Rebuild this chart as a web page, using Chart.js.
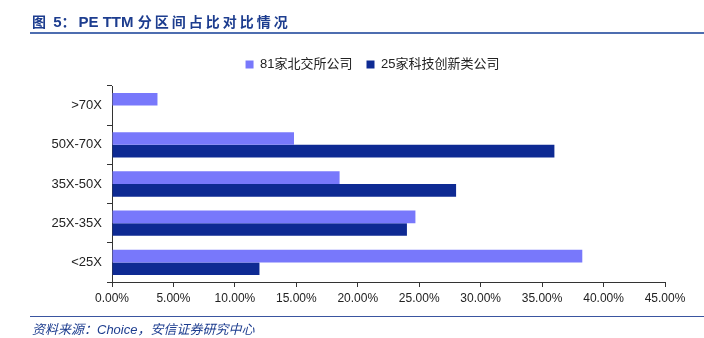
<!DOCTYPE html>
<html>
<head>
<meta charset="utf-8">
<script src="https://cdn.jsdelivr.net/npm/chart.js@4.4.1/dist/chart.umd.min.js"></script>
<style>
  html, body { margin: 0; padding: 0; background: #fff; width: 704px; height: 338px; overflow: hidden; }
  #wrap { position: relative; width: 704px; height: 338px; }
  #title { position: absolute; left: 32px; top: 11px; font-family: "Liberation Sans", "Noto Sans CJK SC", sans-serif; font-weight: bold; font-size: 15px; color: #1d3d8f; white-space: nowrap; }
  #title .cjk { letter-spacing: 3px; font-size: 14px; }
  #tline { position: absolute; left: 30px; top: 32px; width: 674px; height: 2px; background: #4d6db0; }
  #sline { position: absolute; left: 30px; top: 316px; width: 674px; height: 1px; background: #3a55a0; }
  #source { position: absolute; left: 32px; top: 319px; font-family: "Liberation Sans", "Noto Sans CJK SC", sans-serif; font-style: italic; font-size: 13px; color: #1d3d8f; white-space: nowrap; }
  canvas { position: absolute; left: 0; top: 0; }
</style>
</head>
<body>
<div id="wrap">
  <canvas id="c" width="704" height="338"></canvas>
  <div id="title"><span class="cjk">图</span> 5<span class="cjk">：</span>PE TTM <span class="cjk">分区间占比对比情况</span></div>
  <div id="tline"></div>
  <div id="sline"></div>
  <div id="source">资料来源：Choice，安信证券研究中心</div>
</div>
<script>
const categories = [">70X", "50X-70X", "35X-50X", "25X-35X", "<25X"];
const seriesNames = ["81家北交所公司", "25家科技创新类公司"];
const bseShare = [0.0370, 0.1481, 0.1852, 0.2469, 0.3827];
const techShare = [0, 0.36, 0.28, 0.24, 0.12];
const xTickMax = 0.45;
const xTickStep = 0.05;

const FONT = '"Liberation Sans", "Noto Sans CJK SC", sans-serif';

const legendTweak = {
  id: 'legendTweak',
  afterInit(chart) {
    const lg = chart.legend;
    const fit = lg.fit;
    lg.fit = function () { fit.call(this); this.height += 5; };
  },
  afterLayout(chart) {
    const lg = chart.legend;
    lg.left += 40; lg.right += 40;
  }
};

new Chart(document.getElementById('c'), {
  type: 'bar',
  data: {
    labels: categories,
    datasets: [
      { label: seriesNames[0], data: bseShare, backgroundColor: '#7878fb', borderWidth: 0 },
      { label: seriesNames[1], data: techShare, backgroundColor: '#0e2a93', borderWidth: 0 }
    ]
  },
  plugins: [legendTweak],
  options: {
    indexAxis: 'y',
    responsive: false,
    animation: false,
    layout: { padding: { top: 44, right: 39, bottom: 27, left: 0 } },
    datasets: { bar: { categoryPercentage: 0.645, barPercentage: 1.0 } },
    plugins: {
      legend: {
        position: 'top',
        labels: {
          boxWidth: 8, boxHeight: 8, padding: 14,
          font: { family: FONT, size: 13 }, color: '#222'
        }
      },
      tooltip: { enabled: false }
    },
    scales: {
      x: {
        min: 0, max: xTickMax,
        grid: { drawOnChartArea: false, drawTicks: true, tickLength: 5, color: '#333' },
        border: { color: '#333', width: 1 },
        ticks: {
          stepSize: xTickStep, padding: 4,
          font: { family: FONT, size: 12 }, color: '#222',
          callback: v => (v * 100).toFixed(2) + '%'
        },
        afterFit: s => { s.height = 29; }
      },
      y: {
        grid: { drawOnChartArea: false, drawTicks: true, tickLength: 5, color: '#333', offset: true },
        border: { color: '#333', width: 1 },
        ticks: { padding: 5, font: { family: FONT, size: 13 }, color: '#222' },
        afterFit: s => { s.width = 112; }
      }
    }
  }
});
</script>
</body>
</html>
